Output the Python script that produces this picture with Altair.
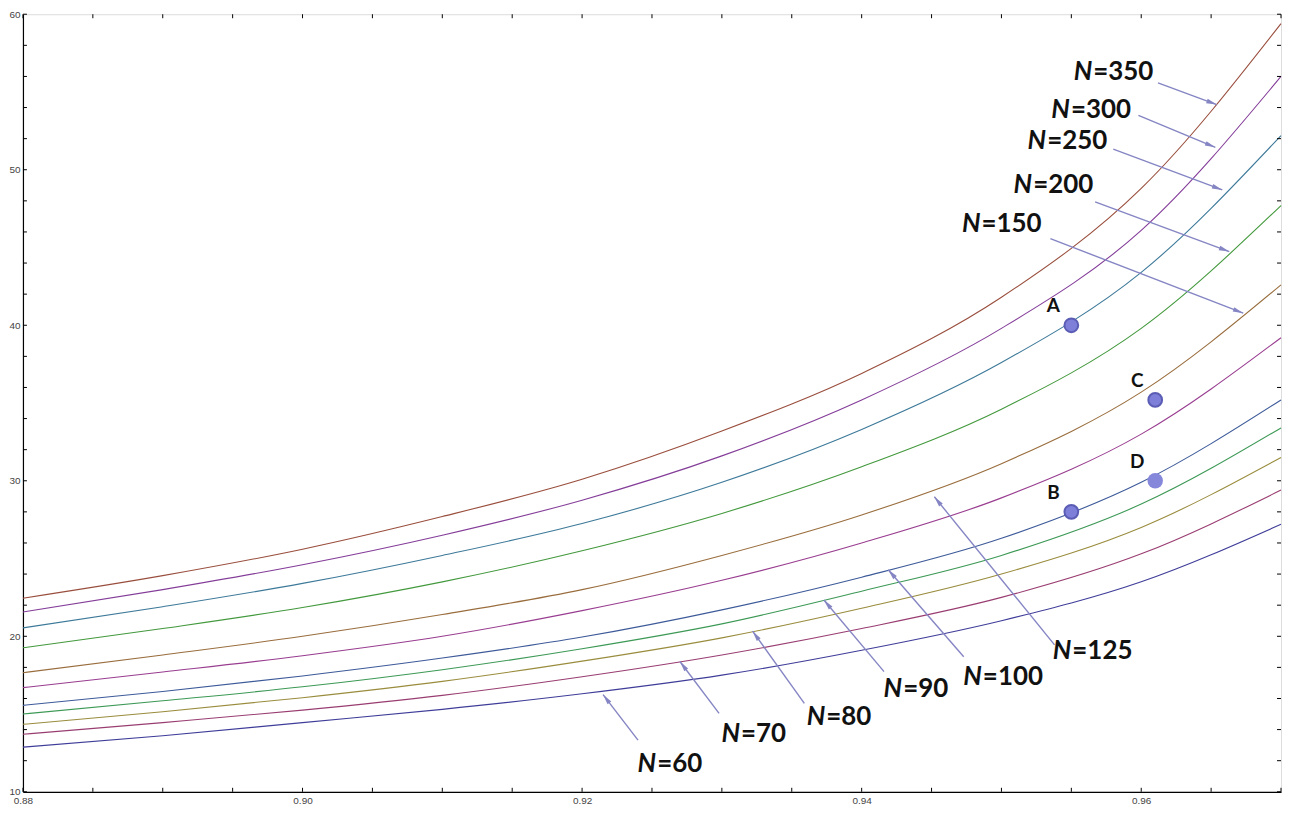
import math
import altair as alt
import pandas as pd

# ---------------- data ----------------
x_grid = [0.88, 0.89, 0.90, 0.91, 0.92, 0.93, 0.94, 0.95, 0.96, 0.97]
series_names = ["60", "70", "80", "90", "100", "125", "150", "200", "250", "300", "350"]
y_N60 = [12.87, 13.6, 14.45, 15.3, 16.3, 17.5, 19.1, 21.0, 23.5, 27.2]
y_N70 = [13.70, 14.45, 15.25, 16.2, 17.4, 18.8, 20.5, 22.5, 25.3, 29.4]
y_N80 = [14.34, 15.15, 16.05, 17.1, 18.4, 19.9, 21.8, 24.0, 27.0, 31.5]
y_N90 = [15.0, 15.85, 16.75, 17.85, 19.2, 20.8, 22.9, 25.2, 28.5, 33.4]
y_N100 = [15.56, 16.45, 17.45, 18.6, 19.95, 21.7, 23.8, 26.3, 29.9, 35.2]
y_N125 = [16.70, 17.7, 18.75, 20.0, 21.65, 23.6, 26.0, 28.9, 33.0, 39.2]
y_N150 = [17.66, 18.8, 20.0, 21.4, 23.0, 25.2, 27.8, 31.1, 35.7, 42.6]
y_N200 = [19.26, 20.5, 21.85, 23.5, 25.5, 27.9, 30.9, 34.6, 39.8, 47.7]
y_N250 = [20.54, 21.9, 23.4, 25.2, 27.25, 29.9, 33.3, 37.6, 43.4, 52.2]
y_N300 = [21.56, 23.0, 24.6, 26.5, 28.75, 31.6, 35.2, 39.8, 46.1, 56.0]
y_N350 = [22.45, 23.9, 25.6, 27.7, 30.1, 33.2, 36.9, 41.8, 48.8, 59.4]
series_values = [y_N60, y_N70, y_N80, y_N90, y_N100, y_N125, y_N150,
                 y_N200, y_N250, y_N300, y_N350]
series_colors = ["#3f3d99", "#993d71", "#998c3d", "#3d9956", "#3d5a99", "#993d90",
                 "#996d3d", "#43993d", "#3d7999", "#843d99", "#994e3d"]

# labelled points
pt_names = ["A", "B", "C", "D"]
pt_x = [0.955, 0.955, 0.961, 0.961]
pt_y = [40.0, 28.0, 35.2, 30.0]

# N= labels (anchor between "N" and "=value") and their arrows (tail -> tip)
lab_text = ["350", "300", "250", "200", "150", "125", "100", "90", "80", "70", "60"]
lab_x = [0.9565, 0.9549, 0.9532, 0.9522, 0.9485, 0.9550, 0.9486, 0.9429, 0.9374, 0.9313, 0.9253]
lab_y = [56.30, 53.87, 51.83, 49.02, 46.53, 19.07, 17.40, 16.64, 14.79, 13.70, 11.79]
arr_x1 = [0.9612, 0.9598, 0.9580, 0.9567, 0.9535, 0.9538, 0.9473, 0.9416, 0.9359, 0.9298, 0.9240]
arr_y1 = [55.59, 53.49, 51.32, 47.93, 45.57, 19.45, 18.68, 17.73, 15.68, 15.04, 13.32]
arr_x2 = [0.9654, 0.9653, 0.9658, 0.9663, 0.9673, 0.9452, 0.9419, 0.9373, 0.9322, 0.9270, 0.9215]
arr_y2 = [54.19, 51.44, 48.70, 44.74, 40.78, 28.97, 24.28, 22.33, 20.33, 18.38, 16.25]

x_label_values = [0.88, 0.90, 0.92, 0.94, 0.96]
y_label_values = [10, 20, 30, 40, 50, 60]
x_minor = [round(0.88 + 0.005 * i, 3) for i in range(19)]
y_minor = list(range(10, 61, 2))

# ---------------- layout ----------------
W, H = 1262, 780
XD = [0.88, 0.97]
YD = [10, 60]
xs = alt.Scale(domain=XD, nice=False, zero=False)
ys = alt.Scale(domain=YD, nice=False, zero=False)

ax_x = alt.Axis(values=x_label_values, format=".2f", title=None, tickSize=0, grid=False,
                labelFontSize=10, labelPadding=4, labelFlush=False, labelColor="#444",
                labelFont="Liberation Sans", domainColor="#000", domainWidth=1.2)
ax_y = alt.Axis(values=y_label_values, title=None, tickSize=0, grid=False,
                labelFontSize=10, labelPadding=3, labelColor="#444",
                labelFont="Liberation Sans", domainColor="#000", domainWidth=1.2)

def X(f):
    return alt.X(f, type="quantitative", scale=xs, axis=ax_x)

def Y(f):
    return alt.Y(f, type="quantitative", scale=ys, axis=ax_y)

rows = []
for name, vals in zip(series_names, series_values):
    for xv, yv in zip(x_grid, vals):
        rows.append({"x": xv, "y": yv, "N": name})
curves = pd.DataFrame(rows)

lines = alt.Chart(curves).mark_line(strokeWidth=1.1, interpolate="monotone").encode(
    x=X("x"), y=Y("y"),
    color=alt.Color("N:N", scale=alt.Scale(domain=series_names, range=series_colors), legend=None),
    detail="N:N",
)

# inward frame ticks
xt = pd.DataFrame({"x": x_minor})
yt = pd.DataFrame({"y": y_minor})
tick_style = dict(color="#000", strokeWidth=1)
t_bottom = alt.Chart(xt).mark_rule(**tick_style).encode(x=X("x"), y=alt.value(H), y2=alt.value(H - 4))
t_top = alt.Chart(xt).mark_rule(**tick_style).encode(x=X("x"), y=alt.value(0), y2=alt.value(4))
t_left = alt.Chart(yt).mark_rule(**tick_style).encode(y=Y("y"), x=alt.value(0), x2=alt.value(4))
t_right = alt.Chart(yt).mark_rule(**tick_style).encode(y=Y("y"), x=alt.value(W), x2=alt.value(W - 4))

# arrows
sx = W / (XD[1] - XD[0])
sy = H / (YD[1] - YD[0])
angles = []
for a, b, c, d in zip(arr_x1, arr_y1, arr_x2, arr_y2):
    dx = (c - a) * sx
    dys = -(d - b) * sy
    angles.append(math.degrees(math.atan2(dx, -dys)) % 360)
arrows = pd.DataFrame({"x": arr_x1, "y": arr_y1, "x2": arr_x2, "y2": arr_y2, "ang": angles})
arrow_color = "#8585c4"
arrow_lines = alt.Chart(arrows).mark_rule(color=arrow_color, strokeWidth=1.4).encode(
    x=X("x"), y=Y("y"), x2="x2:Q", y2="y2:Q")
head_path = "M0,0L0.45,2L-0.45,2Z"
arrow_heads = alt.Chart(arrows).mark_point(shape=head_path, filled=True, size=110, color=arrow_color,
                                           opacity=1, strokeWidth=0).encode(
    x=X("x2"), y=Y("y2"), angle=alt.Angle("ang:Q", scale=None))

labels = pd.DataFrame({"x": lab_x, "y": lab_y, "t": ["=" + s for s in lab_text], "n": ["N"] * len(lab_text)})
lab_font = "Lato"
lab_N = alt.Chart(labels).mark_text(font=lab_font, fontSize=26, fontWeight="bold", fontStyle="italic",
                                     align="right", baseline="middle", color="#111").encode(
    x=X("x"), y=Y("y"), text="n:N")
lab_V = alt.Chart(labels).mark_text(font=lab_font, fontSize=26, fontWeight="bold",
                                     align="left", baseline="middle", color="#111", dx=1).encode(
    x=X("x"), y=Y("y"), text="t:N")

pts = pd.DataFrame({"x": pt_x, "y": pt_y, "name": pt_names})
ring_pts = alt.Chart(pts).transform_filter(alt.datum.name != "D").mark_circle(
    size=190, color="#7d7fd8", opacity=1, stroke="#5b5db5", strokeWidth=2).encode(x=X("x"), y=Y("y"))
plain_pts = alt.Chart(pts).transform_filter(alt.datum.name == "D").mark_circle(
    size=240, color="#8587da", opacity=1).encode(x=X("x"), y=Y("y"))
pt_labels = alt.Chart(pts).mark_text(font=lab_font, fontSize=19, fontWeight="bold", color="#111",
                                     dx=-18, dy=-19).encode(x=X("x"), y=Y("y"), text="name:N")

chart = alt.layer(
    lines, t_bottom, t_top, t_left, t_right, arrow_lines, arrow_heads,
    lab_N, lab_V, ring_pts, plain_pts, pt_labels
).properties(
    width=W, height=H, padding={"left": 0, "top": 0, "right": 0, "bottom": 0}
).configure_view(stroke="#000", strokeWidth=1.2).configure(background="white")

chart.save("out.html", embed_options={"renderer": "svg", "actions": False})
